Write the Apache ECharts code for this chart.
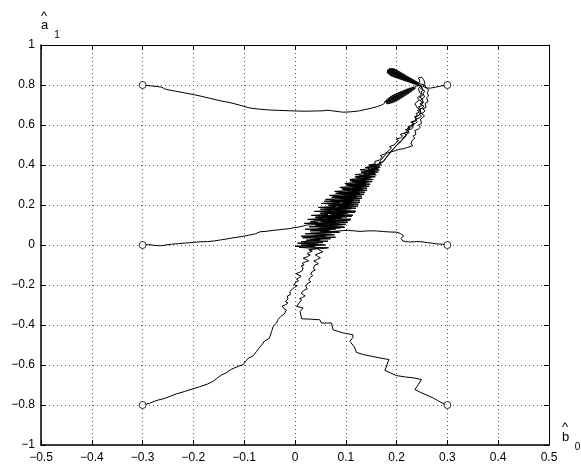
<!DOCTYPE html>
<html>
<head>
<meta charset="utf-8">
<script src="https://cdn.jsdelivr.net/npm/echarts/dist/echarts.min.js"></script>
<style>
  html, body { margin: 0; padding: 0; background: #fff; }
  #chart { width: 581px; height: 464px; }
</style>
</head>
<body>
<div id="chart"></div>
<script>
// Tick labels for the two axes
const xTickLabels = ['−0.5', '−0.4', '−0.3', '−0.2', '−0.1', '0', '0.1', '0.2', '0.3', '0.4', '0.5'];
const yTickLabels = ['−1', '−0.8', '−0.6', '−0.4', '−0.2', '0', '0.2', '0.4', '0.6', '0.8', '1'];

// Estimate trajectories (b0, a1), one per starting point
const pathA = [
  [-0.3, 0.8], [-0.285, 0.796], [-0.27, 0.792], [-0.262, 0.789], [-0.257, 0.781], [-0.25, 0.776],
  [-0.235, 0.769], [-0.218, 0.761], [-0.2, 0.752], [-0.185, 0.744], [-0.165, 0.732], [-0.145, 0.72],
  [-0.128, 0.712], [-0.11, 0.7], [-0.089, 0.685], [-0.07, 0.679], [-0.05, 0.675], [-0.03, 0.673],
  [-0.01, 0.671], [0.003, 0.67], [0.02, 0.669], [0.04, 0.67], [0.055, 0.671], [0.063, 0.674],
  [0.07, 0.672], [0.085, 0.667], [0.095, 0.664], [0.11, 0.666], [0.125, 0.67], [0.134, 0.675],
  [0.15, 0.684], [0.162, 0.692], [0.17, 0.699], [0.176, 0.708],
  [0.1773, 0.7013], [0.1757, 0.716], [0.1795, 0.7025], [0.1774, 0.72], [0.1818, 0.7038], [0.1792, 0.724],
  [0.184, 0.705], [0.1808, 0.7279], [0.1862, 0.7062], [0.1826, 0.7319], [0.1885, 0.7076], [0.1843, 0.7359],
  [0.1907, 0.7093], [0.1861, 0.7394], [0.1928, 0.711], [0.188, 0.7429], [0.1948, 0.7132], [0.1898, 0.746],
  [0.1968, 0.7158], [0.1918, 0.7486], [0.1988, 0.7184], [0.1938, 0.7512], [0.2008, 0.721], [0.1958, 0.7538],
  [0.2028, 0.7236], [0.1978, 0.7564], [0.2047, 0.7262], [0.1997, 0.759], [0.2066, 0.7292], [0.2018, 0.7611],
  [0.2085, 0.7323], [0.2039, 0.7634], [0.2105, 0.7354], [0.2059, 0.7655], [0.2124, 0.7384], [0.208, 0.7677],
  [0.2142, 0.7415], [0.21, 0.7698], [0.2161, 0.7445], [0.2121, 0.772], [0.218, 0.7476], [0.2142, 0.7741],
  [0.2199, 0.7506], [0.2163, 0.7763], [0.2218, 0.7537], [0.2184, 0.7784], [0.2236, 0.7567], [0.2204, 0.7806],
  [0.2256, 0.7598], [0.2224, 0.7828], [0.2274, 0.7634], [0.2246, 0.7845], [0.2292, 0.7669], [0.2268, 0.7862],
  [0.231, 0.7704], [0.229, 0.7879], [0.2328, 0.7739], [0.231, 0.7896], [0.2346, 0.7774], [0.2332, 0.7913],
  [0.2364, 0.7809], [0.2364, 0.7943], [0.2403, 0.787], [0.242, 0.795],
  [0.24, 0.806], [0.232, 0.815], [0.221, 0.829], [0.21, 0.842], [0.198, 0.855], [0.19, 0.866], [0.184, 0.874]
];

const pathB = [
  [-0.3, 0], [-0.288, 0.002], [-0.276, -0.002], [-0.265, -0.004], [-0.255, 0.0], [-0.243, 0.004],
  [-0.23, 0.007], [-0.215, 0.01], [-0.2, 0.013], [-0.187, 0.016], [-0.172, 0.017], [-0.16, 0.02],
  [-0.145, 0.026], [-0.13, 0.032], [-0.122, 0.036], [-0.105, 0.042], [-0.089, 0.05], [-0.078, 0.056],
  [-0.069, 0.066], [-0.055, 0.069], [-0.04, 0.074], [-0.025, 0.078], [-0.01, 0.082], [-0.004, 0.086],
  [0.008, 0.09], [0.016, 0.095], [0.023, 0.1],
  [0.06, 0.104], [0.018, 0.108], [0.045, 0.113], [0.03, 0.118], [0.074, 0.123], [0.025, 0.128],
  [0.056, 0.133], [0.04, 0.138], [0.082, 0.143], [0.032, 0.148], [0.065, 0.153], [0.05, 0.158],
  [0.09, 0.163], [0.038, 0.168], [0.072, 0.173], [0.06, 0.178], [0.098, 0.183], [0.046, 0.188],
  [0.08, 0.193], [0.066, 0.198], [0.104, 0.203], [0.052, 0.208], [0.088, 0.213], [0.074, 0.218],
  [0.11, 0.223], [0.06, 0.228], [0.094, 0.233], [0.08, 0.238], [0.116, 0.243], [0.068, 0.248],
  [0.1, 0.253], [0.088, 0.258], [0.122, 0.263], [0.078, 0.268], [0.108, 0.273], [0.095, 0.278],
  [0.128, 0.283], [0.088, 0.288], [0.116, 0.293], [0.104, 0.298], [0.134, 0.303], [0.098, 0.308],
  [0.124, 0.313], [0.112, 0.318], [0.14, 0.323], [0.108, 0.328], [0.132, 0.334], [0.12, 0.34],
  [0.146, 0.346], [0.118, 0.352], [0.14, 0.358], [0.13, 0.364], [0.152, 0.37], [0.128, 0.376],
  [0.148, 0.382], [0.138, 0.388], [0.156, 0.394], [0.145, 0.4], [0.158, 0.406],
  [0.16, 0.412], [0.157, 0.418], [0.166, 0.424], [0.163, 0.433], [0.172, 0.44], [0.168, 0.447],
  [0.176, 0.455], [0.174, 0.463], [0.183, 0.468], [0.18, 0.477], [0.19, 0.485], [0.186, 0.492],
  [0.195, 0.5], [0.192, 0.508], [0.2, 0.514], [0.204, 0.522], [0.199, 0.53], [0.208, 0.536],
  [0.212, 0.545], [0.207, 0.553], [0.216, 0.56], [0.221, 0.568], [0.217, 0.577], [0.226, 0.583],
  [0.222, 0.592], [0.23, 0.598], [0.234, 0.607], [0.228, 0.615], [0.236, 0.622], [0.24, 0.632],
  [0.235, 0.641], [0.242, 0.648], [0.238, 0.657], [0.245, 0.664], [0.241, 0.673], [0.248, 0.681],
  [0.243, 0.69], [0.25, 0.697], [0.246, 0.706], [0.252, 0.714], [0.246, 0.722], [0.251, 0.731],
  [0.245, 0.74], [0.251, 0.748], [0.254, 0.757], [0.248, 0.766], [0.253, 0.774], [0.247, 0.783],
  [0.251, 0.791], [0.243, 0.8], [0.236, 0.809], [0.226, 0.822], [0.215, 0.834]
];

const pathC = [
  [-0.3, -0.8], [-0.286, -0.791], [-0.272, -0.777], [-0.258, -0.768], [-0.245, -0.756], [-0.233, -0.744],
  [-0.218, -0.733], [-0.2, -0.718], [-0.188, -0.709], [-0.172, -0.695], [-0.16, -0.68], [-0.154, -0.667],
  [-0.145, -0.65], [-0.136, -0.64], [-0.125, -0.621], [-0.112, -0.607], [-0.102, -0.598], [-0.098, -0.584],
  [-0.092, -0.566], [-0.083, -0.556], [-0.076, -0.533], [-0.071, -0.516], [-0.064, -0.495], [-0.06, -0.48],
  [-0.052, -0.47], [-0.049, -0.456], [-0.046, -0.432], [-0.043, -0.407], [-0.037, -0.392], [-0.033, -0.372],
  [-0.028, -0.357], [-0.021, -0.344], [-0.017, -0.325], [-0.022, -0.318], [-0.019, -0.311], [-0.025, -0.305],
  [-0.018, -0.298], [-0.014, -0.29], [-0.019, -0.283], [-0.02, -0.275], [-0.014, -0.27], [-0.011, -0.262],
  [-0.015, -0.255], [-0.009, -0.248], [-0.006, -0.24], [-0.01, -0.232], [-0.012, -0.224], [-0.005, -0.219],
  [-0.001, -0.212], [0.004, -0.204], [-0.002, -0.198], [-0.004, -0.19], [0.002, -0.185], [0.007, -0.178],
  [0.003, -0.171], [0.008, -0.163], [0.012, -0.156], [0.006, -0.149], [0.002, -0.143], [0.009, -0.137],
  [0.014, -0.128], [0.011, -0.12], [0.016, -0.113], [0.012, -0.105], [0.018, -0.099], [0.014, -0.092],
  [0.02, -0.085], [0.027, -0.079], [0.022, -0.072], [0.016, -0.066], [0.024, -0.059], [0.03, -0.05],
  [0.024, -0.044], [0.028, -0.037], [0.034, -0.031], [0.027, -0.024], [0.046, -0.018], [0.008, -0.012],
  [0.04, -0.006], [0.012, 0.0],
  [0.045, 0.004], [0.005, 0.009], [0.03, 0.014], [0.065, 0.019], [0.022, 0.024], [0.05, 0.029],
  [0.04, 0.034], [0.08, 0.039], [0.012, 0.044], [0.058, 0.049], [0.072, 0.054], [0.03, 0.059],
  [0.088, 0.064], [0.05, 0.069], [0.066, 0.074], [0.02, 0.079], [0.076, 0.084], [0.096, 0.089],
  [0.045, 0.094], [0.07, 0.099], [0.1, 0.104], [0.03, 0.109], [0.082, 0.114], [0.064, 0.119],
  [0.108, 0.124], [0.05, 0.129], [0.09, 0.134], [0.04, 0.139], [0.112, 0.144], [0.07, 0.149],
  [0.095, 0.154], [0.058, 0.159], [0.118, 0.164], [0.082, 0.169], [0.1, 0.174], [0.05, 0.179],
  [0.12, 0.184], [0.09, 0.189], [0.108, 0.194], [0.068, 0.199], [0.125, 0.204], [0.095, 0.209],
  [0.116, 0.214], [0.058, 0.219], [0.128, 0.224], [0.1, 0.229], [0.12, 0.234], [0.072, 0.239],
  [0.132, 0.244], [0.105, 0.249], [0.124, 0.254], [0.08, 0.259], [0.138, 0.264], [0.112, 0.269],
  [0.128, 0.274], [0.094, 0.279], [0.142, 0.284], [0.118, 0.289], [0.134, 0.294], [0.104, 0.299],
  [0.148, 0.304], [0.125, 0.309], [0.14, 0.315], [0.115, 0.321], [0.154, 0.327], [0.132, 0.333],
  [0.146, 0.339], [0.126, 0.345], [0.16, 0.351], [0.14, 0.357], [0.155, 0.363], [0.138, 0.369],
  [0.166, 0.375], [0.15, 0.381], [0.162, 0.387], [0.148, 0.393], [0.165, 0.4],
  [0.164, 0.41], [0.168, 0.422], [0.166, 0.432], [0.174, 0.44], [0.178, 0.452], [0.182, 0.46],
  [0.19, 0.466], [0.198, 0.472], [0.204, 0.478], [0.213, 0.481], [0.222, 0.488], [0.232, 0.497],
  [0.228, 0.505], [0.226, 0.514], [0.231, 0.524], [0.236, 0.534], [0.232, 0.544], [0.238, 0.553],
  [0.241, 0.562], [0.236, 0.572], [0.243, 0.58], [0.247, 0.59], [0.243, 0.6], [0.249, 0.608],
  [0.252, 0.618], [0.247, 0.628], [0.251, 0.637], [0.255, 0.646], [0.25, 0.656], [0.246, 0.665],
  [0.247, 0.676], [0.241, 0.685], [0.238, 0.695], [0.236, 0.706], [0.24, 0.716], [0.245, 0.725],
  [0.241, 0.735], [0.244, 0.745], [0.249, 0.754], [0.245, 0.764], [0.247, 0.774], [0.243, 0.783],
  [0.247, 0.792], [0.24, 0.802], [0.232, 0.811], [0.222, 0.824], [0.211, 0.838]
];

const pathD = [
  [0.3, 0.8], [0.288, 0.795], [0.276, 0.789], [0.266, 0.784], [0.258, 0.786], [0.252, 0.793],
  [0.256, 0.81], [0.253, 0.828], [0.249, 0.84], [0.243, 0.835], [0.246, 0.82],
  [0.2432, 0.8118], [0.2399, 0.7993], [0.2415, 0.8144], [0.238, 0.8009], [0.2398, 0.8169], [0.2361, 0.8026],
  [0.2381, 0.8195], [0.2342, 0.8042], [0.2364, 0.822], [0.2323, 0.8059], [0.2346, 0.8246], [0.2305, 0.8075],
  [0.2329, 0.8271], [0.2286, 0.8092], [0.2312, 0.8297], [0.2267, 0.8108], [0.2295, 0.8322], [0.2248, 0.8125],
  [0.2278, 0.8348], [0.2229, 0.8141], [0.2261, 0.8374], [0.221, 0.8157], [0.2243, 0.8399], [0.2192, 0.8174],
  [0.2226, 0.8425], [0.2173, 0.819], [0.2209, 0.845], [0.2154, 0.8207], [0.2192, 0.8476], [0.2135, 0.8223],
  [0.2175, 0.8501], [0.2116, 0.824], [0.2157, 0.8527], [0.2098, 0.8256], [0.214, 0.8552], [0.2079, 0.8273],
  [0.2123, 0.8578], [0.206, 0.8289], [0.2106, 0.8603], [0.2041, 0.8306], [0.2089, 0.8629], [0.2022, 0.8322],
  [0.2072, 0.8654], [0.2003, 0.8339], [0.2054, 0.868], [0.1985, 0.8355], [0.2037, 0.8705], [0.1966, 0.8371],
  [0.202, 0.8731], [0.1947, 0.8388], [0.2003, 0.8757], [0.1928, 0.8404], [0.1985, 0.8778], [0.191, 0.8425],
  [0.1967, 0.8799], [0.1892, 0.8446], [0.1949, 0.882], [0.1876, 0.8476], [0.1929, 0.8832], [0.186, 0.8507],
  [0.1909, 0.8839], [0.1844, 0.8541], [0.1887, 0.8837], [0.1828, 0.8576], [0.1865, 0.8836], [0.1814, 0.8619],
  [0.1838, 0.8811]
];

const pathE = [
  [0.3, 0], [0.29, 0.004], [0.28, 0.005], [0.27, 0.009], [0.26, 0.012], [0.25, 0.016],
  [0.24, 0.017], [0.228, 0.015], [0.218, 0.017], [0.212, 0.02], [0.209, 0.033], [0.214, 0.046],
  [0.207, 0.058], [0.2, 0.064], [0.188, 0.065], [0.175, 0.067], [0.162, 0.07], [0.154, 0.071],
  [0.14, 0.07], [0.128, 0.068], [0.115, 0.071], [0.105, 0.073], [0.095, 0.072], [0.085, 0.07],
  [0.075, 0.068], [0.066, 0.07],
  [0.035, 0.074], [0.08, 0.079], [0.05, 0.084], [0.098, 0.089], [0.06, 0.094], [0.04, 0.099],
  [0.088, 0.104], [0.07, 0.109], [0.104, 0.114], [0.05, 0.119], [0.085, 0.124], [0.11, 0.129],
  [0.066, 0.134], [0.092, 0.139], [0.055, 0.144], [0.114, 0.149], [0.08, 0.154], [0.1, 0.159],
  [0.064, 0.164], [0.12, 0.169], [0.09, 0.174], [0.074, 0.179], [0.112, 0.184], [0.085, 0.189],
  [0.124, 0.194], [0.078, 0.199], [0.108, 0.204], [0.092, 0.209], [0.128, 0.214], [0.082, 0.219],
  [0.116, 0.224], [0.1, 0.229], [0.132, 0.234], [0.09, 0.239], [0.12, 0.244], [0.108, 0.249],
  [0.136, 0.254], [0.096, 0.259], [0.126, 0.264], [0.114, 0.269], [0.142, 0.274], [0.102, 0.279],
  [0.132, 0.284], [0.122, 0.289], [0.146, 0.294], [0.11, 0.299], [0.14, 0.305], [0.128, 0.311],
  [0.152, 0.317], [0.12, 0.323], [0.146, 0.329], [0.136, 0.335], [0.158, 0.341], [0.13, 0.347],
  [0.152, 0.353], [0.144, 0.359], [0.164, 0.365], [0.14, 0.371], [0.158, 0.377], [0.15, 0.383],
  [0.168, 0.389], [0.156, 0.395], [0.17, 0.401],
  [0.166, 0.41], [0.174, 0.418], [0.171, 0.428], [0.179, 0.436], [0.176, 0.446], [0.184, 0.452],
  [0.182, 0.462], [0.19, 0.47], [0.188, 0.48], [0.196, 0.487], [0.2, 0.497], [0.197, 0.506],
  [0.205, 0.514], [0.21, 0.522], [0.207, 0.532], [0.214, 0.54], [0.219, 0.549], [0.215, 0.558],
  [0.223, 0.565], [0.226, 0.575], [0.222, 0.585], [0.23, 0.592], [0.234, 0.602], [0.23, 0.612],
  [0.238, 0.62], [0.241, 0.63], [0.237, 0.64], [0.244, 0.648], [0.241, 0.658], [0.248, 0.666],
  [0.244, 0.676], [0.25, 0.684], [0.254, 0.694], [0.248, 0.703], [0.253, 0.712], [0.256, 0.722],
  [0.25, 0.731], [0.255, 0.74], [0.258, 0.75], [0.252, 0.759], [0.256, 0.768], [0.251, 0.778],
  [0.254, 0.788], [0.248, 0.798], [0.24, 0.806], [0.23, 0.818]
];

const pathF = [
  [0.3, -0.8], [0.29, -0.79], [0.281, -0.778], [0.272, -0.765], [0.26, -0.751], [0.248, -0.738],
  [0.236, -0.723], [0.242, -0.7], [0.249, -0.673], [0.235, -0.665], [0.218, -0.66], [0.2, -0.653],
  [0.188, -0.64], [0.177, -0.627], [0.181, -0.6], [0.185, -0.573], [0.168, -0.565], [0.15, -0.556],
  [0.135, -0.548], [0.121, -0.537], [0.117, -0.51], [0.108, -0.482], [0.114, -0.462], [0.114, -0.449],
  [0.104, -0.444], [0.095, -0.44], [0.085, -0.432], [0.075, -0.424], [0.073, -0.405], [0.072, -0.39],
  [0.062, -0.39], [0.052, -0.39], [0.049, -0.374], [0.032, -0.371], [0.013, -0.369], [0.01, -0.332],
  [0.016, -0.315], [0.003, -0.307], [0.013, -0.274], [0.009, -0.268], [0.015, -0.262], [0.02, -0.254],
  [0.016, -0.248], [0.012, -0.241], [0.012, -0.232], [0.018, -0.226], [0.024, -0.219], [0.027, -0.211],
  [0.021, -0.205], [0.019, -0.198], [0.025, -0.192], [0.031, -0.184], [0.027, -0.176], [0.024, -0.168],
  [0.03, -0.162], [0.035, -0.153], [0.031, -0.146], [0.028, -0.139], [0.034, -0.132], [0.04, -0.124],
  [0.036, -0.117], [0.033, -0.108], [0.039, -0.101], [0.046, -0.094], [0.042, -0.087], [0.037, -0.08],
  [0.044, -0.072], [0.05, -0.064], [0.044, -0.056], [0.04, -0.049], [0.047, -0.042], [0.055, -0.034],
  [0.049, -0.027], [0.045, -0.02], [0.066, -0.014], [0.02, -0.01], [0.0, -0.006], [0.06, 0.0],
  [0.022, 0.008],
  [0.055, 0.012], [0.012, 0.017], [0.048, 0.022], [0.03, 0.027], [0.07, 0.031], [0.015, 0.036],
  [0.06, 0.041], [0.04, 0.046], [0.078, 0.051], [0.02, 0.056], [0.05, 0.061], [0.085, 0.066],
  [0.03, 0.071], [0.068, 0.076], [0.045, 0.081], [0.09, 0.086], [0.028, 0.091], [0.062, 0.096],
  [0.094, 0.101], [0.04, 0.106], [0.075, 0.111], [0.055, 0.116], [0.098, 0.121], [0.036, 0.126],
  [0.08, 0.131], [0.06, 0.136], [0.102, 0.141], [0.045, 0.146], [0.088, 0.151], [0.07, 0.156],
  [0.106, 0.161], [0.05, 0.166], [0.092, 0.171], [0.066, 0.176], [0.11, 0.181], [0.058, 0.186],
  [0.1, 0.191], [0.08, 0.196], [0.116, 0.201], [0.064, 0.206], [0.098, 0.211], [0.112, 0.216],
  [0.07, 0.221], [0.105, 0.226], [0.088, 0.231], [0.122, 0.236], [0.076, 0.241], [0.11, 0.246],
  [0.094, 0.251], [0.128, 0.256], [0.085, 0.261], [0.118, 0.266], [0.104, 0.271], [0.134, 0.276],
  [0.092, 0.281], [0.124, 0.286], [0.112, 0.291], [0.14, 0.296], [0.1, 0.301], [0.13, 0.306],
  [0.118, 0.311], [0.145, 0.316], [0.108, 0.321], [0.138, 0.326], [0.128, 0.331], [0.15, 0.336],
  [0.118, 0.341], [0.146, 0.346], [0.136, 0.352], [0.158, 0.358], [0.13, 0.364], [0.152, 0.37],
  [0.144, 0.376], [0.164, 0.382], [0.142, 0.388], [0.16, 0.394], [0.152, 0.4], [0.168, 0.406],
  [0.17, 0.412], [0.175, 0.42], [0.172, 0.43], [0.18, 0.438], [0.178, 0.448], [0.186, 0.456],
  [0.183, 0.466], [0.191, 0.474], [0.195, 0.484], [0.192, 0.494], [0.2, 0.5], [0.206, 0.51],
  [0.203, 0.52], [0.211, 0.527], [0.216, 0.537], [0.213, 0.547], [0.22, 0.554], [0.225, 0.563],
  [0.221, 0.573], [0.229, 0.58], [0.233, 0.59], [0.229, 0.6], [0.237, 0.607], [0.241, 0.617],
  [0.237, 0.627], [0.244, 0.634], [0.249, 0.644], [0.245, 0.654], [0.252, 0.661], [0.256, 0.671],
  [0.251, 0.681], [0.258, 0.688], [0.261, 0.698], [0.256, 0.708], [0.262, 0.716], [0.265, 0.726],
  [0.259, 0.736], [0.263, 0.745], [0.266, 0.755], [0.26, 0.764], [0.264, 0.773], [0.259, 0.783],
  [0.262, 0.792], [0.255, 0.8], [0.247, 0.806], [0.238, 0.816], [0.228, 0.826]
];

const trajectories = [pathA, pathB, pathC, pathD, pathE, pathF];

const FONT = '"Liberation Sans", Arial, Helvetica, sans-serif';

const chart = echarts.init(document.getElementById('chart'), null, { renderer: 'canvas' });

const tickIndex = (v, min, step) => Math.round((v - min) / step);

const lineSeries = trajectories.map(p => ({
  type: 'line',
  data: p,
  xAxisIndex: 0,
  yAxisIndex: 0,
  symbol: 'none',
  showSymbol: false,
  smooth: false,
  silent: true,
  lineStyle: { color: '#000', width: 1 },
  z: 3
}));

const startSeries = {
  type: 'scatter',
  data: trajectories.map(p => p[0]),
  xAxisIndex: 0,
  yAxisIndex: 0,
  symbol: 'circle',
  symbolSize: 7,
  silent: true,
  itemStyle: { color: '#fff', borderColor: '#000', borderWidth: 1 },
  z: 4
};

const axisBase = {
  type: 'value',
  axisLine: { show: true, onZero: false, lineStyle: { color: '#000', width: 1 } },
  axisTick: { show: true, inside: true, length: 5, lineStyle: { color: '#000', width: 1 } }
};

chart.setOption({
  animation: false,
  backgroundColor: '#fff',
  grid: { left: 41, right: 32, top: 45, bottom: 19, containLabel: false },
  xAxis: [
    Object.assign({}, axisBase, {
      position: 'bottom', min: -0.5, max: 0.5, interval: 0.1,
      axisLine: { show: true, onZero: false, lineStyle: { color: '#000', width: 1.5 } },
      axisLabel: {
        color: '#000', fontSize: 12, fontFamily: FONT, margin: 7,
        formatter: v => xTickLabels[tickIndex(v, -0.5, 0.1)]
      },
      splitLine: { show: true, lineStyle: { color: '#555', width: 1, type: [1, 3] } }
    }),
    Object.assign({}, axisBase, {
      position: 'top', min: -0.5, max: 0.5, interval: 0.1,
      axisLabel: { show: false }, splitLine: { show: false }
    })
  ],
  yAxis: [
    Object.assign({}, axisBase, {
      position: 'left', min: -1, max: 1, interval: 0.2,
      axisLine: { show: true, onZero: false, lineStyle: { color: '#000', width: 1.5 } },
      axisLabel: {
        color: '#000', fontSize: 12, fontFamily: FONT, margin: 6,
        formatter: v => yTickLabels[tickIndex(v, -1, 0.2)]
      },
      splitLine: { show: true, lineStyle: { color: '#555', width: 1, type: [1, 3] } }
    }),
    Object.assign({}, axisBase, {
      position: 'right', min: -1, max: 1, interval: 0.2,
      axisLabel: { show: false }, splitLine: { show: false }
    })
  ],
  graphic: [
    { type: 'text', x: 44, y: 16, style: { text: '^', font: '13px ' + FONT, fill: '#000', textAlign: 'center', textVerticalAlign: 'middle' } },
    { type: 'text', x: 44.5, y: 25.5, style: { text: 'a', font: '13px ' + FONT, fill: '#000', textAlign: 'center', textVerticalAlign: 'middle' } },
    { type: 'text', x: 57, y: 35, style: { text: '1', font: '10px ' + FONT, fill: '#000', textAlign: 'center', textVerticalAlign: 'middle' } },
    { type: 'text', x: 565, y: 427.5, style: { text: '^', font: '13px ' + FONT, fill: '#000', textAlign: 'center', textVerticalAlign: 'middle' } },
    { type: 'text', x: 565.5, y: 437, style: { text: 'b', font: '13px ' + FONT, fill: '#000', textAlign: 'center', textVerticalAlign: 'middle' } },
    { type: 'text', x: 577.5, y: 447, style: { text: '0', font: '10px ' + FONT, fill: '#000', textAlign: 'center', textVerticalAlign: 'middle' } }
  ],
  series: lineSeries.concat([startSeries])
});
</script>
</body>
</html>
